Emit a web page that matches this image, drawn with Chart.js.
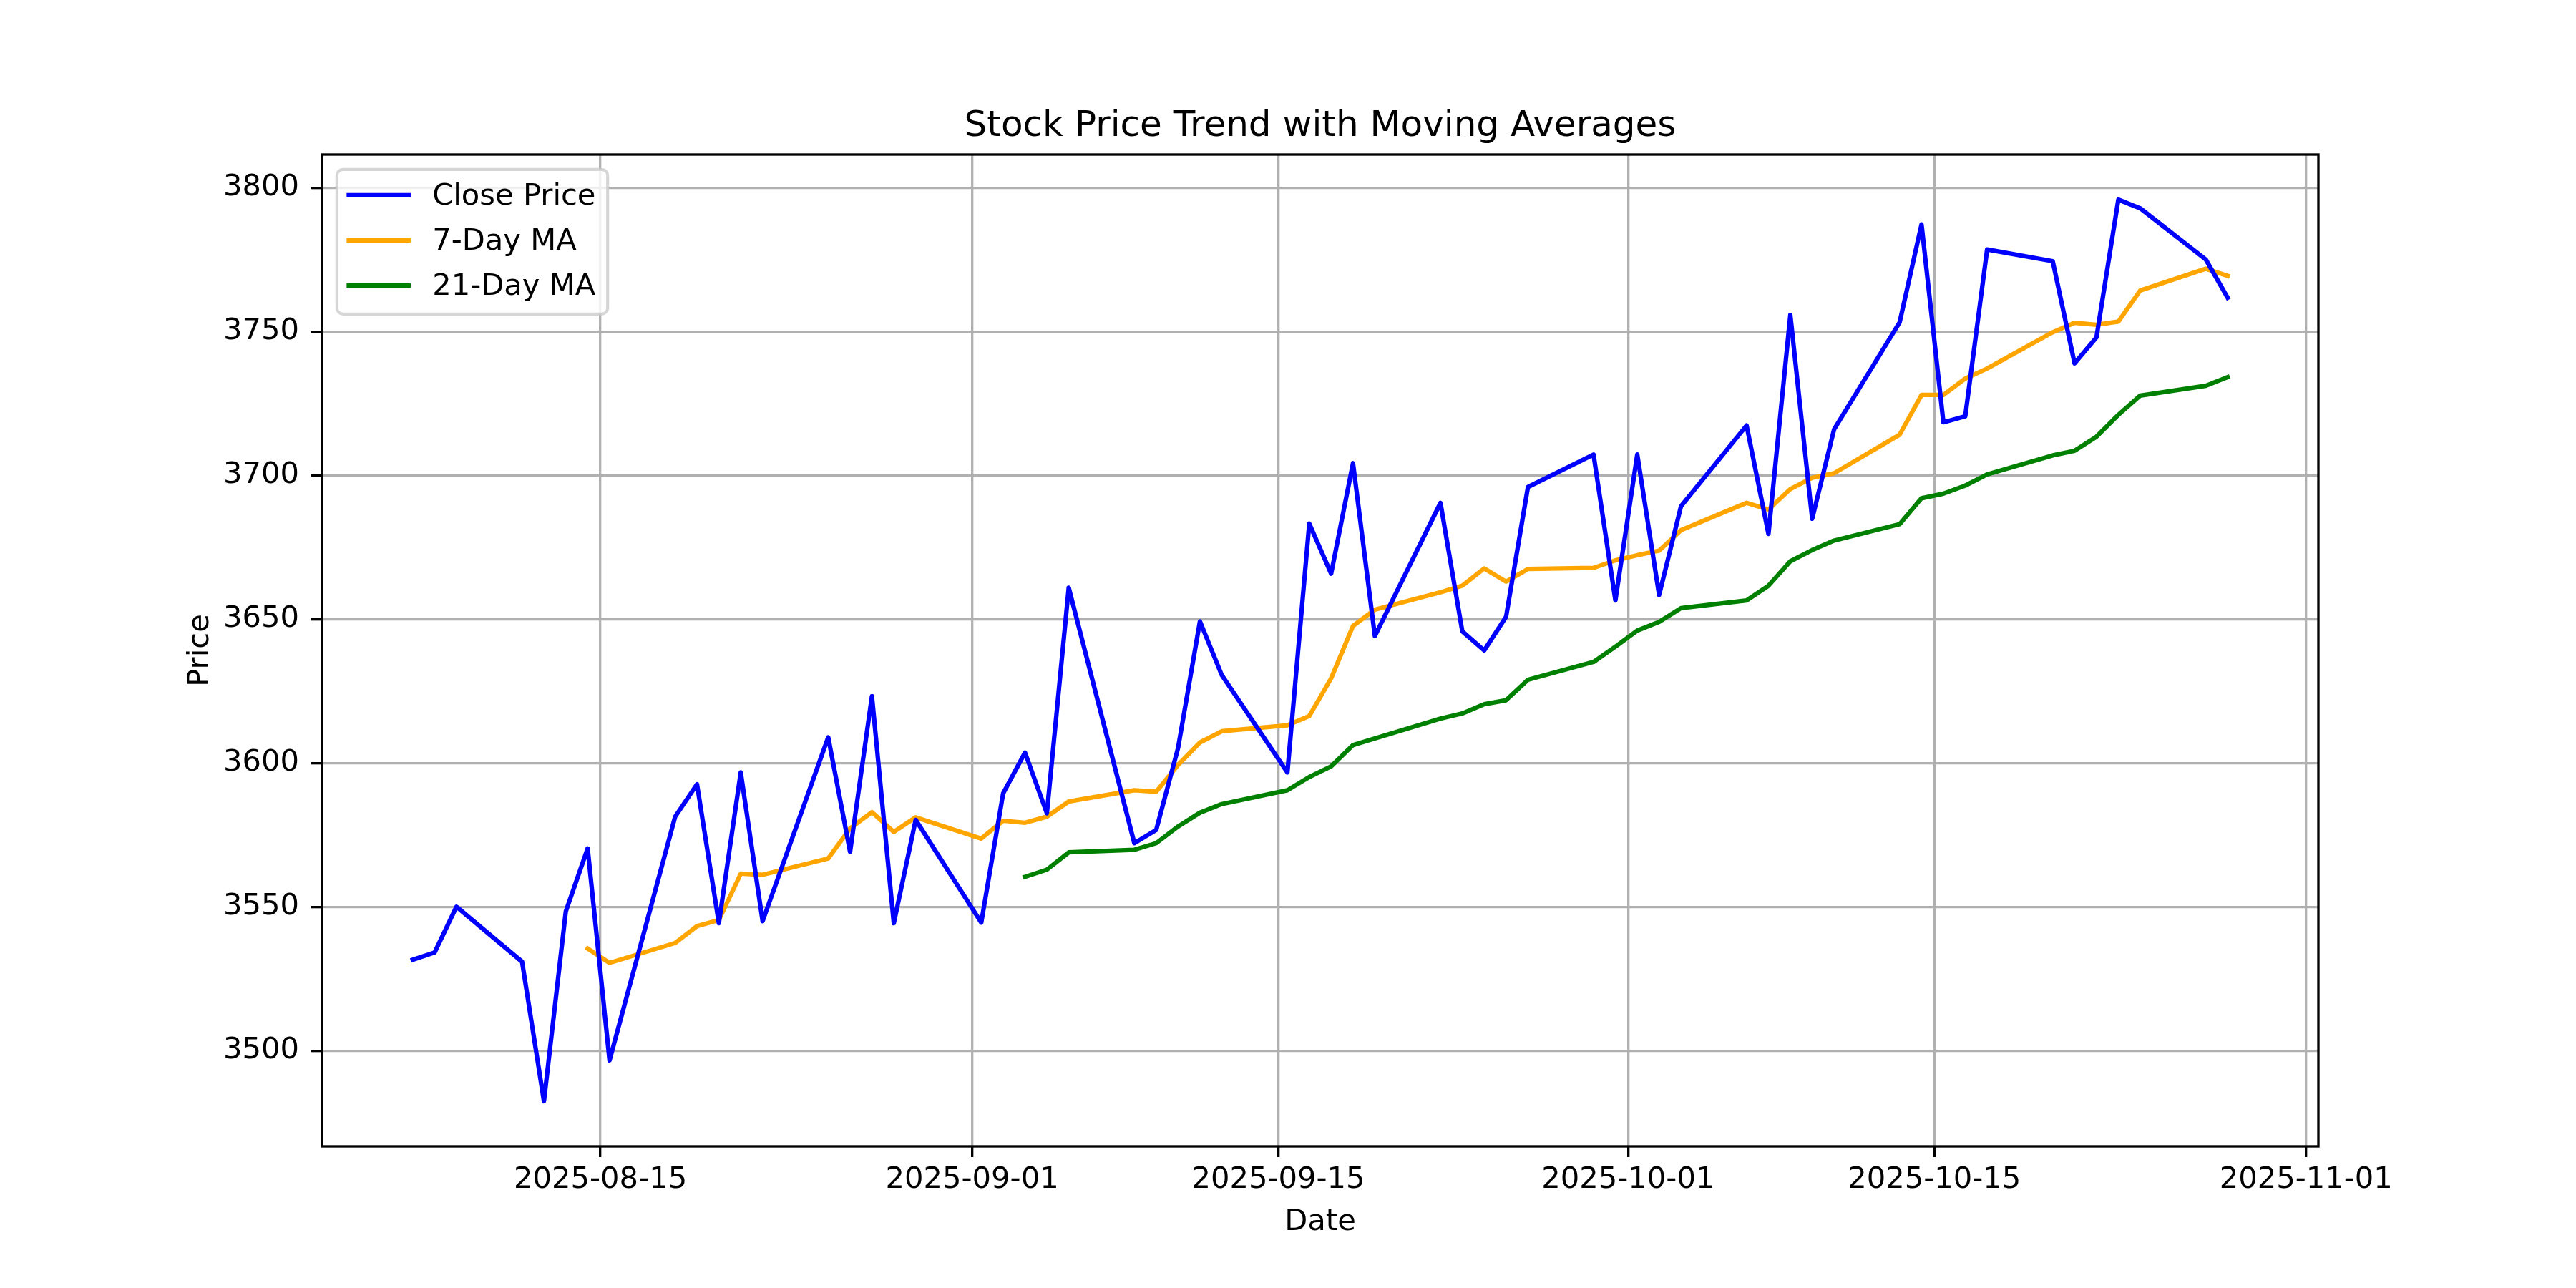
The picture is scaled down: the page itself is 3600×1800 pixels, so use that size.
<!DOCTYPE html>
<html>
<head>
<meta charset="utf-8">
<script src="https://cdn.jsdelivr.net/npm/chart.js@4.4.0/dist/chart.umd.min.js"></script>
<style>html,body{margin:0;padding:0;background:#fff;}canvas{display:block;}</style>
</head>
<body>
<canvas id="c" width="3600" height="1800"></canvas>
<script>
// ---------- data ----------
const dates = [
  '2025-08-06','2025-08-07','2025-08-08','2025-08-11','2025-08-12','2025-08-13','2025-08-14','2025-08-15',
  '2025-08-18','2025-08-19','2025-08-20','2025-08-21','2025-08-22','2025-08-25','2025-08-26','2025-08-27',
  '2025-08-28','2025-08-29',
  '2025-09-01','2025-09-02','2025-09-03','2025-09-04','2025-09-05','2025-09-08','2025-09-09','2025-09-10',
  '2025-09-11','2025-09-12','2025-09-15','2025-09-16','2025-09-17','2025-09-18','2025-09-19','2025-09-22',
  '2025-09-23','2025-09-24','2025-09-25','2025-09-26','2025-09-29','2025-09-30',
  '2025-10-01','2025-10-02','2025-10-03','2025-10-06','2025-10-07','2025-10-08','2025-10-09','2025-10-10',
  '2025-10-13','2025-10-14','2025-10-15','2025-10-16','2025-10-17','2025-10-20','2025-10-21','2025-10-22',
  '2025-10-23','2025-10-24','2025-10-27','2025-10-28'
];
const sampleTime = 'T10:00:00Z';

const closePrice = [
  3531.7, 3534.2, 3550.1, 3531.0, 3482.5, 3548.5, 3570.4, 3496.7,
  3581.4, 3592.7, 3544.4, 3596.8, 3545.1, 3609.0, 3569.2, 3623.3,
  3544.4, 3580.3,
  3544.6, 3589.5, 3603.7, 3582.6, 3661.0, 3572.2, 3576.8, 3605.3,
  3649.3, 3630.6, 3596.8, 3683.3, 3665.9, 3704.3, 3644.2, 3690.5,
  3645.8, 3639.2, 3650.9, 3696.0, 3707.3, 3656.6,
  3707.3, 3658.5, 3689.3, 3717.4, 3679.7, 3755.8, 3685.0, 3716.0,
  3753.3, 3787.3, 3718.5, 3720.6, 3778.6, 3774.5, 3739.0, 3748.0,
  3795.9, 3792.9, 3775.1, 3761.8
];

const ma7 = [
  null, null, null, null, null, null, 3535.6, 3530.6,
  3537.5, 3543.4, 3545.5, 3561.6, 3561.2, 3566.9, 3577.3, 3583.0,
  3576.1, 3581.2,
  3573.8, 3580.0, 3579.3, 3581.4, 3586.7, 3590.6, 3590.1, 3599.4,
  3607.2, 3611.1, 3613.2, 3616.4, 3629.5, 3647.7, 3653.4, 3659.4,
  3661.7, 3667.7, 3663.1, 3667.5, 3667.9, 3670.5,
  3672.3, 3673.9, 3681.0, 3690.5, 3688.2, 3695.3, 3699.2, 3700.8,
  3714.2, 3728.0, 3728.0, 3733.7, 3737.2, 3749.8, 3753.1, 3752.4,
  3753.5, 3764.3, 3771.9, 3769.4
];

const ma21 = [
  null, null, null, null, null, null, null, null,
  null, null, null, null, null, null, null, null,
  null, null,
  null, null, 3560.5, 3563.0, 3569.0, 3569.9, 3572.2, 3578.0,
  3582.8, 3585.8, 3590.6, 3595.2, 3598.9, 3606.3, 3608.6, 3615.5,
  3617.3, 3620.5, 3621.9, 3629.0, 3635.2, 3640.5,
  3646.1, 3649.1, 3653.9, 3656.6, 3661.7, 3670.2, 3674.1, 3677.4,
  3683.1, 3692.1, 3693.7, 3696.5, 3700.4, 3707.0, 3708.6, 3713.5,
  3721.1, 3727.8, 3731.2, 3734.2
];

const xTickDates = ['2025-08-15','2025-09-01','2025-09-15','2025-10-01','2025-10-15','2025-11-01'];
const yTicks = [3500, 3550, 3600, 3650, 3700, 3750, 3800];
const seriesLabels = ['Close Price', '7-Day MA', '21-Day MA'];
const seriesColors = ['#0000ff', '#ffa500', '#008000'];
const chartTitle = 'Stock Price Trend with Moving Averages';
const xTitle = 'Date';
const yTitle = 'Price';

// ---------- helpers ----------
const DAY = 86400000;
const toDay = s => Date.parse(s) / DAY;
const xs = dates.map(d => toDay(d + sampleTime));
const pts = arr => arr.map((v, i) => ({ x: xs[i], y: v }));

const allY = closePrice.concat(ma7, ma21).filter(v => v != null);
const yLo = Math.min(...allY), yHi = Math.max(...allY);
const yPad = (yHi - yLo) * 0.05;
const xPad = (xs[xs.length - 1] - xs[0]) * 0.05;

const FONT = 'DejaVu Sans';
const PT = 300 / 72;
const fs = 10 * PT;

const bgPlugin = {
  id: 'bg',
  beforeDraw(c) {
    const ctx = c.ctx;
    ctx.save(); ctx.fillStyle = '#fff'; ctx.fillRect(0, 0, c.width, c.height); ctx.restore();
  }
};

// title centred over the axes box, like matplotlib
const titlePlugin = {
  id: 'mplTitle',
  afterDraw(c) {
    const ctx = c.ctx;
    const { left, right, top } = c.chartArea;
    ctx.save();
    ctx.font = (12 * PT) + 'px "' + FONT + '"';
    ctx.fillStyle = '#000';
    ctx.textAlign = 'center';
    ctx.textBaseline = 'alphabetic';
    ctx.fillText(chartTitle, (left + right) / 2, top - 26);
    ctx.restore();
  }
};

const framePlugin = {
  id: 'frame',
  afterDatasetsDraw(c) {
    const { left, top, right, bottom } = c.chartArea;
    const ctx = c.ctx;
    ctx.save();
    ctx.strokeStyle = '#000';
    ctx.lineWidth = 0.8 * PT;
    ctx.lineJoin = 'miter';
    ctx.strokeRect(left, top, right - left, bottom - top);
    ctx.restore();
  }
};

const legendPlugin = {
  id: 'mplLegend',
  afterDraw(c) {
    const ctx = c.ctx;
    const { left, top } = c.chartArea;
    const ds = c.data.datasets;
    ctx.save();
    ctx.font = fs + 'px "' + FONT + '"';
    const textW = Math.max(...ds.map(d => ctx.measureText(d.label).width));
    const pad = 0.4 * fs, handleLen = 2.0 * fs, textPad = 0.8 * fs;
    const bx = left + 0.5 * fs, by = top + 0.5 * fs;
    const rowH = 63;
    const bw = pad + handleLen + textPad + textW + pad;
    const bh = 202;
    const r = 0.2 * fs;
    ctx.beginPath();
    ctx.moveTo(bx + r, by);
    ctx.lineTo(bx + bw - r, by);
    ctx.arcTo(bx + bw, by, bx + bw, by + r, r);
    ctx.lineTo(bx + bw, by + bh - r);
    ctx.arcTo(bx + bw, by + bh, bx + bw - r, by + bh, r);
    ctx.lineTo(bx + r, by + bh);
    ctx.arcTo(bx, by + bh, bx, by + bh - r, r);
    ctx.lineTo(bx, by + r);
    ctx.arcTo(bx, by, bx + r, by, r);
    ctx.closePath();
    ctx.fillStyle = 'rgba(255,255,255,0.8)';
    ctx.fill();
    ctx.strokeStyle = 'rgba(204,204,204,0.8)';
    ctx.lineWidth = 1.0 * PT;
    ctx.stroke();
    ds.forEach((d, i) => {
      const cy = by + 36 + i * rowH;
      ctx.beginPath();
      ctx.strokeStyle = d.borderColor;
      ctx.lineWidth = 1.5 * PT;
      ctx.lineCap = 'square';
      ctx.moveTo(bx + pad, cy);
      ctx.lineTo(bx + pad + handleLen, cy);
      ctx.stroke();
      ctx.fillStyle = '#000';
      ctx.textBaseline = 'middle';
      ctx.textAlign = 'left';
      ctx.fillText(d.label, bx + pad + handleLen + textPad, cy + 2);
    });
    ctx.restore();
  }
};

const mkDs = (label, data, color) => ({
  label, data: pts(data),
  borderColor: color, backgroundColor: color,
  borderWidth: 1.5 * PT, pointRadius: 0, pointHoverRadius: 0,
  tension: 0, fill: false, spanGaps: false,
  borderJoinStyle: 'round', borderCapStyle: 'square'
});

new Chart(document.getElementById('c'), {
  type: 'line',
  data: {
    datasets: [
      mkDs(seriesLabels[0], closePrice, seriesColors[0]),
      mkDs(seriesLabels[1], ma7, seriesColors[1]),
      mkDs(seriesLabels[2], ma21, seriesColors[2])
    ]
  },
  plugins: [bgPlugin, framePlugin, legendPlugin, titlePlugin],
  options: {
    responsive: false,
    animation: false,
    devicePixelRatio: 1,
    events: [],
    layout: { padding: { left: 0, right: 360, top: 216, bottom: 0 } },
    plugins: {
      legend: { display: false },
      tooltip: { enabled: false },
      title: { display: false }
    },
    scales: {
      x: {
        type: 'linear', position: 'bottom',
        min: xs[0] - xPad, max: xs[xs.length - 1] + xPad,
        afterBuildTicks: s => { s.ticks = xTickDates.map(d => ({ value: toDay(d) })); },
        afterFit: s => { s.height = 198; },
        ticks: {
          callback: v => new Date(v * DAY).toISOString().slice(0, 10),
          color: '#000', font: { family: FONT, size: fs, lineHeight: 1.2 },
          padding: 7, maxRotation: 0, minRotation: 0, autoSkip: false
        },
        grid: { color: '#b0b0b0', lineWidth: 0.8 * PT, drawTicks: true, tickLength: 15, tickColor: '#000', tickWidth: 0.8 * PT },
        border: { display: false },
        title: { display: true, text: xTitle, color: '#000', font: { family: FONT, size: fs, lineHeight: 1.2 }, padding: { top: 0, bottom: 67 } }
      },
      y: {
        type: 'linear', position: 'left',
        min: yLo - yPad, max: yHi + yPad,
        afterBuildTicks: s => { s.ticks = yTicks.map(v => ({ value: v })); },
        afterFit: s => { s.width = 450; },
        ticks: {
          callback: v => String(v),
          color: '#000', font: { family: FONT, size: fs, lineHeight: 1.2 },
          padding: 17, autoSkip: false
        },
        grid: { color: '#b0b0b0', lineWidth: 0.8 * PT, drawTicks: true, tickLength: 15, tickColor: '#000', tickWidth: 0.8 * PT },
        border: { display: false },
        title: { display: true, text: yTitle, color: '#000', font: { family: FONT, size: fs, lineHeight: 1.2 }, padding: { top: 255, bottom: 0 } }
      }
    }
  }
});
</script>
</body>
</html>
